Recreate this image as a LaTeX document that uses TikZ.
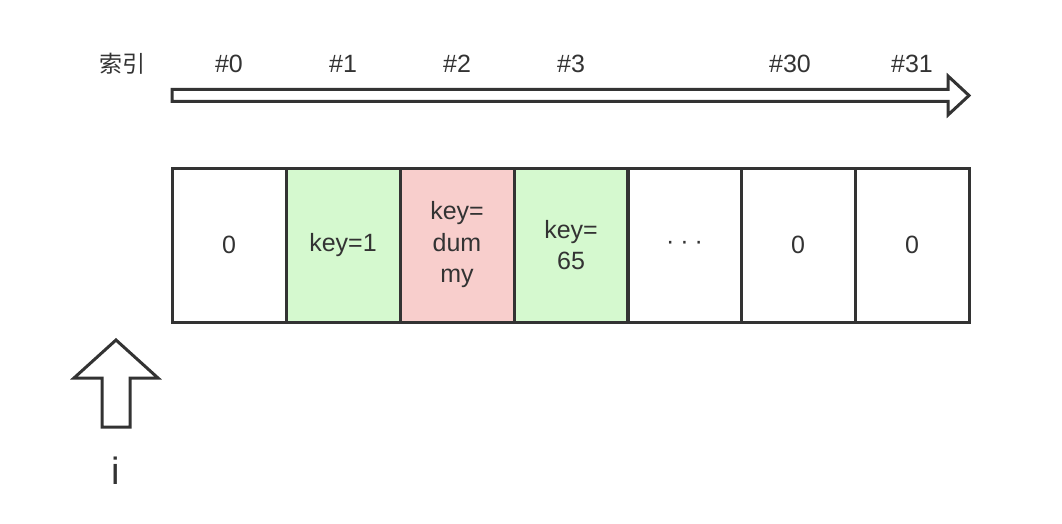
\documentclass[tikz,border=0pt]{standalone}
\usepackage{fontspec}
\setmainfont{Liberation Sans}
\newfontfamily\cjk{Noto Sans CJK SC}
\definecolor{ink}{HTML}{333333}
\definecolor{cellgreen}{HTML}{D5F9CF}
\definecolor{cellred}{HTML}{F8CECC}
\begin{document}
\begin{tikzpicture}[x=1pt,y=-1pt,
  cell/.style={draw=ink, line width=3pt, minimum width=114pt, minimum height=154pt,
    inner sep=0pt, align=center, font=\fontsize{25}{31.5}\selectfont, text=ink},
  lbl/.style={font=\fontsize{25}{30}\selectfont, text=ink},
  shape outline/.style={draw=ink, line width=3pt, line join=miter, fill=white}]
\useasboundingbox (0,0) rectangle (1062,524);
% index labels
\node[font=\fontsize{23}{28}\selectfont, text=ink] (idx) at (122,64) {\cjk 索引};
\node[lbl] (l0) at (229,64) {\#0};
\node[lbl] (l1) at (343,64) {\#1};
\node[lbl] (l2) at (457,64) {\#2};
\node[lbl] (l3) at (571,64) {\#3};
\node[lbl] (l30) at (790,64) {\#30};
\node[lbl] (l31) at (912,64) {\#31};
% long arrow
\draw[shape outline] (172,89.5) -- (948,89.5) -- (948,76) -- (969,95.5) -- (948,115) -- (948,101.5) -- (172,101.5) -- cycle;
% cells
\node[cell] (c0) at (229,245) {0};
\node[cell, fill=cellgreen] (c1) at (343,245) {key=1};
\node[cell, fill=cellred] (c2) at (457,245) {key=\\dum\\my};
\node[cell, fill=cellgreen] (c3) at (571,245) {key=\\65};
\node[cell] (c4) at (684.5,245) {\raisebox{-7pt}{\textperiodcentered\hspace{6pt}\textperiodcentered\hspace{6pt}\textperiodcentered}};
\node[cell] (c5) at (798,245) {0};
\node[cell] (c6) at (912,245) {0};
% up arrow
\draw[shape outline] (116,340) -- (158,378) -- (130,378) -- (130,427) -- (102,427) -- (102,378) -- (74,378) -- cycle;
\node[font=\fontsize{38}{44}\selectfont, text=ink] (ilabel) at (116,471) {i};
\end{tikzpicture}
\end{document}
